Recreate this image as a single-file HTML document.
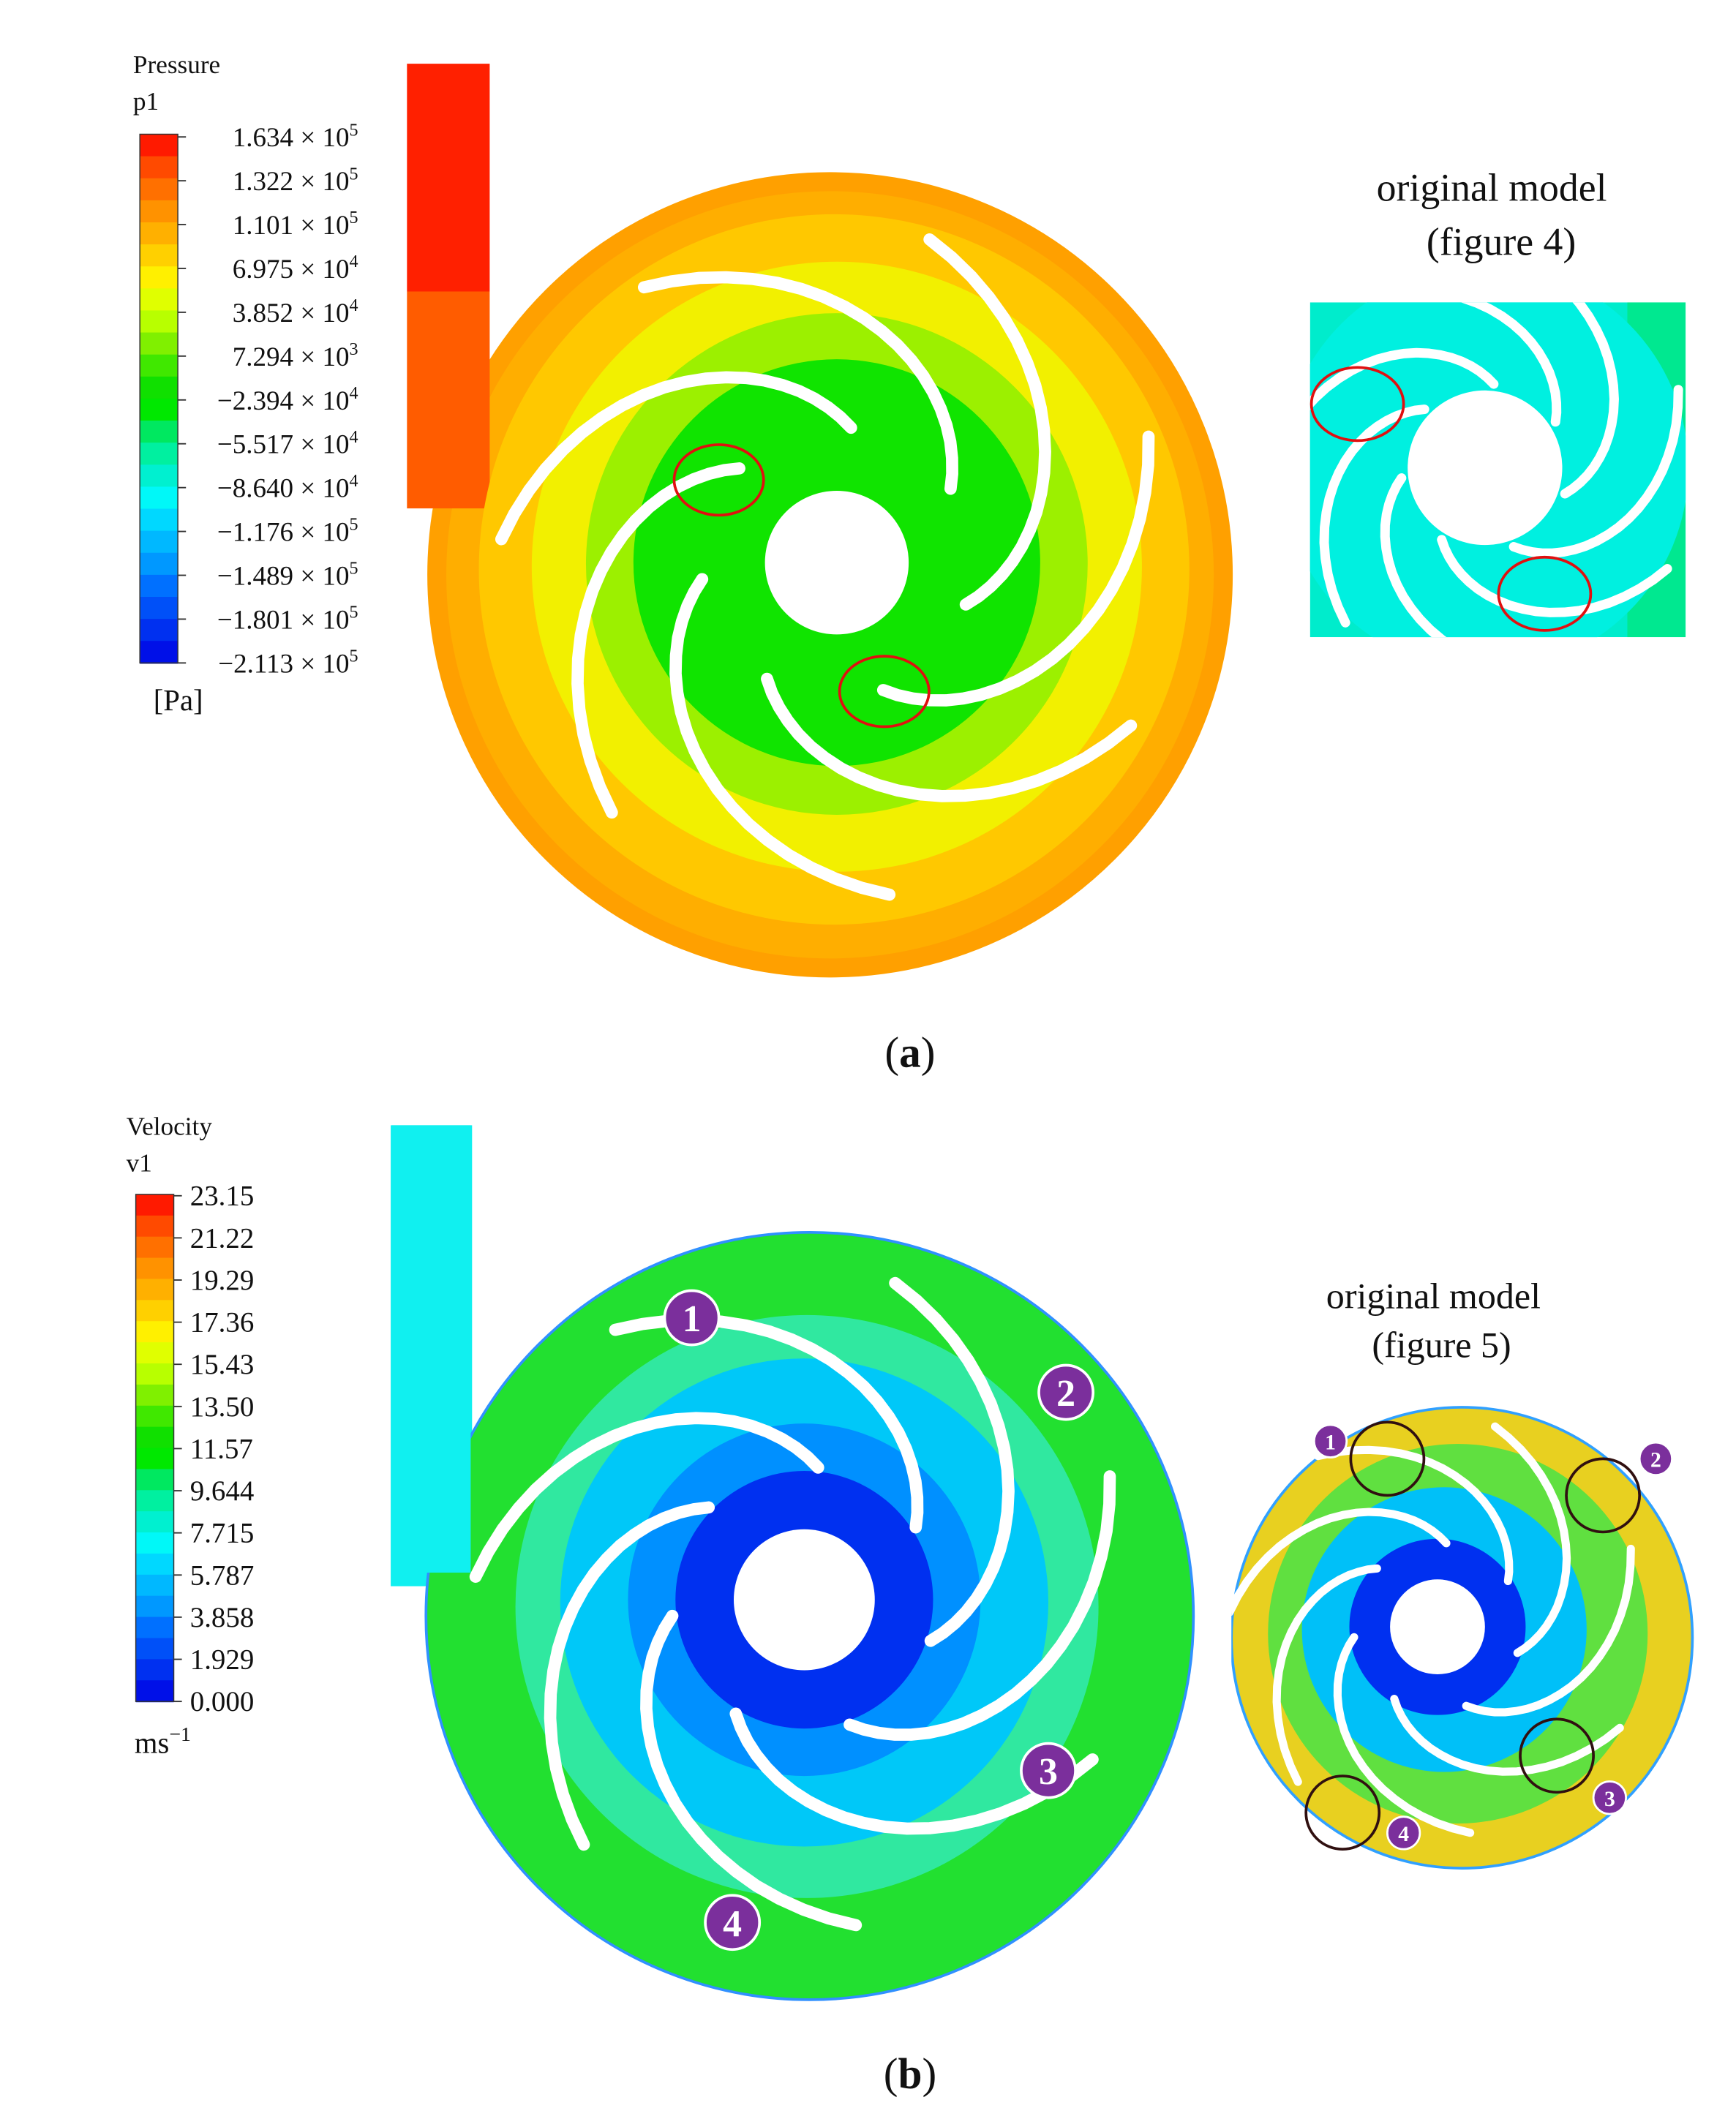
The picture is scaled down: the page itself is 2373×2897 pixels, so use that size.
<!DOCTYPE html>
<html><head><meta charset="utf-8"><style>
html,body{margin:0;padding:0;background:#fff}
svg{display:block}
text{font-family:"Liberation Serif",serif;fill:#111}
</style></head><body>
<svg id="fig" width="2373" height="2897" viewBox="0 0 1280 1563" xmlns="http://www.w3.org/2000/svg">
<defs>
<clipPath id="insA"><rect x="966" y="223" width="277" height="247"/></clipPath>
<clipPath id="insB"><rect x="908" y="1000" width="360" height="400"/></clipPath>
</defs>
<g id="panelA"></g>
<g id="panelB"></g>
<text x="671" y="787" font-size="32" text-anchor="middle">(<tspan font-weight="bold">a</tspan>)</text>
<text x="671" y="1540" font-size="32" text-anchor="middle">(<tspan font-weight="bold">b</tspan>)</text>
</svg>
<script>
// ---- data ----
const pressureTicks = ["1.634","1.322","1.101","6.975","3.852","7.294","\u22122.394","\u22125.517","\u22128.640","\u22121.176","\u22121.489","\u22121.801","\u22122.113"];
const pressureExps = ["5","5","5","4","4","3","4","4","4","5","5","5","5"];
const velocityTicks = ["23.15","21.22","19.29","17.36","15.43","13.50","11.57","9.644","7.715","5.787","3.858","1.929","0.000"];
const bandColors = ["#ff1a00","#ff4a00","#ff7000","#ff9200","#ffb000","#ffd000","#fff000","#e0ff00","#b8ff00","#80f000","#40e800","#10e000","#00e800","#00e860","#00f0a0","#00f0d0","#00f8f8","#00d8ff","#00b8ff","#0098ff","#0070ff","#0050f8","#0030f0","#0010e8"];
const bladeStarts = [70,121,173,224,276,327,18]; // leading-edge angles (deg)

const NS="http://www.w3.org/2000/svg";
function mk(tag,attrs,parent){const e=document.createElementNS(NS,tag);for(const k in attrs)e.setAttribute(k,attrs[k]);parent.appendChild(e);return e;}
function txt(parent,x,y,s,size,anchor){const t=mk('text',{x:x,y:y,'font-size':size,'text-anchor':anchor||'start'},parent);t.textContent=s;return t;}

function colorBar(parent,x,y0,y1,w){
  const n=bandColors.length,h=(y1-y0)/n;
  bandColors.forEach((c,i)=>{
    const r=mk('rect',{x:x,y:y0+i*h,width:w,height:h+0.6,fill:c},parent);
    
    
  });
  mk('rect',{x:x,y:y0,width:w,height:y1-y0,fill:'none',stroke:'#333','stroke-width':0.8},parent);
}
function blades(parent,cx,cy,scale,w){
  bladeStarts.forEach(a0=>{
    let d='';
    for(let i=0;i<=20;i++){const t=i/20;const a=(a0-92*t)*Math.PI/180;const r=(100+148*t)*scale;
      d+=(i?'L':'M')+(cx+r*Math.cos(a)).toFixed(1)+' '+(cy+r*Math.sin(a)).toFixed(1);}
    const p=mk('path',{d:d,fill:'none',stroke:'#fff','stroke-width':w,'stroke-linecap':'round'},parent);
    
    
  });
}

// ---- panel A ----
const A=document.getElementById('panelA');
txt(A,98,54,'Pressure',19);txt(A,98,81,'p1',19);
colorBar(A,103,99,489,28);
pressureTicks.forEach((s,i)=>{
  const y=101+i*(388/12);
  mk('line',{x1:131,y1:y,x2:137,y2:y,stroke:'#333','stroke-width':1},A);
  const t=mk('text',{x:264,y:y+7,'font-size':20,'text-anchor':'end'},A);
  
  
  t.innerHTML=s+' \u00d7 10<tspan dy="-8" font-size="13">'+pressureExps[i]+'</tspan>';
});
txt(A,113,524,'[Pa]',22);
// volute
mk('circle',{cx:612,cy:424,r:290,fill:'#ffae00'},A);
mk('circle',{cx:612,cy:424,r:290,fill:'none',stroke:'#ffa000','stroke-width':14},A);
mk('rect',{x:300,y:215,width:61,height:160,fill:'#ff5c00'},A);
mk('rect',{x:300,y:47,width:61,height:168,fill:'#ff2000'},A);
mk('circle',{cx:615,cy:420,r:262,fill:'#ffc800'},A);
mk('circle',{cx:617,cy:418,r:225,fill:'#f2f000'},A);
mk('circle',{cx:617,cy:416,r:185,fill:'#9cf000'},A);
mk('circle',{cx:617,cy:415,r:150,fill:'#10e400'},A);
blades(A,617,415,1,9);
mk('circle',{cx:617,cy:415,r:53,fill:'#fff'},A);
mk('ellipse',{cx:530,cy:354,rx:33,ry:26,fill:'none',stroke:'#e01010','stroke-width':2},A);
mk('ellipse',{cx:652,cy:510,rx:33,ry:26,fill:'none',stroke:'#e01010','stroke-width':2},A);
// inset A
txt(A,1100,148,'original model',29,'middle');txt(A,1107,188,'(figure 4)',29,'middle');
const ia=mk('g',{'clip-path':'url(#insA)'},A);
mk('rect',{x:966,y:223,width:277,height:247,fill:'#00eccc'},ia);
mk('rect',{x:1200,y:223,width:43,height:247,fill:'#00e890'},ia);
mk('circle',{cx:1095,cy:345,r:150,fill:'#00f0e0'},ia);
blades(ia,1095,345,0.62,7);
mk('circle',{cx:1095,cy:345,r:57,fill:'#fff'},ia);
mk('ellipse',{cx:1001,cy:298,rx:34,ry:27,fill:'none',stroke:'#e01010','stroke-width':2},A);
mk('ellipse',{cx:1139,cy:438,rx:34,ry:27,fill:'none',stroke:'#e01010','stroke-width':2},A);

// ---- panel B ----
const B=document.getElementById('panelB');
txt(B,93,837,'Velocity',19);txt(B,93,864,'v1',19);
colorBar(B,100,881,1255,28);
velocityTicks.forEach((s,i)=>{
  const y=882+i*(373/12);
  mk('line',{x1:128,y1:y,x2:134,y2:y,stroke:'#333','stroke-width':1},B);
  const t=txt(B,140,y+7,s,21);
  
  
});
const u=mk('text',{x:99,y:1293,'font-size':22},B);u.innerHTML='ms<tspan dy="-9" font-size="15">\u22121</tspan>';
mk('rect',{x:288,y:830,width:60,height:340,fill:'#10f0f0'},B);
mk('circle',{cx:597,cy:1192,r:283,fill:'#22e030',stroke:'#3090ff','stroke-width':2},B);
mk('rect',{x:289,y:830,width:58,height:330,fill:'#10f0f0'},B);
mk('circle',{cx:595,cy:1185,r:215,fill:'#30e8a0'},B);
mk('circle',{cx:593,cy:1182,r:180,fill:'#00c8f8'},B);
mk('circle',{cx:593,cy:1180,r:130,fill:'#0090ff'},B);
mk('circle',{cx:593,cy:1180,r:95,fill:'#0030f0'},B);
blades(B,593,1180,0.98,9);
mk('circle',{cx:593,cy:1180,r:52,fill:'#fff'},B);
[[510,972,'1'],[786,1027,'2'],[773,1306,'3'],[540,1418,'4']].forEach(m=>{
  const c=mk('circle',{cx:m[0],cy:m[1],r:20,fill:'#7b2f9c',stroke:'#fff','stroke-width':2},B);
  
  
  const t=mk('text',{x:m[0],y:m[1]+10,'font-size':28,'font-weight':'bold','text-anchor':'middle',fill:'#fff'},B);
  t.style.fill='#fff';t.textContent=m[2];
});
txt(B,1057,965,'original model',27,'middle');txt(B,1063,1001,'(figure 5)',27,'middle');
const ib=mk('g',{'clip-path':'url(#insB)'},B);
mk('circle',{cx:1078,cy:1208,r:170,fill:'#e8d020',stroke:'#30a0ff','stroke-width':2},ib);
mk('circle',{cx:1075,cy:1205,r:140,fill:'#60e040'},ib);
mk('circle',{cx:1065,cy:1202,r:105,fill:'#00c0f8'},ib);
mk('circle',{cx:1060,cy:1200,r:65,fill:'#0030f0'},ib);
blades(ib,1060,1200,0.62,6);
mk('circle',{cx:1060,cy:1200,r:35,fill:'#fff'},ib);
[[1023,1076],[1182,1103],[1148,1295],[990,1337]].forEach(p=>mk('circle',{cx:p[0],cy:p[1],r:27,fill:'none',stroke:'#301010','stroke-width':2},B));
[[981,1063,'1'],[1221,1076,'2'],[1187,1326,'3'],[1035,1352,'4']].forEach(m=>{
  mk('circle',{cx:m[0],cy:m[1],r:12,fill:'#7b2f9c',stroke:'#fff','stroke-width':1.5},B);
  const t=mk('text',{x:m[0],y:m[1]+6,'font-size':16,'font-weight':'bold','text-anchor':'middle'},B);t.style.fill='#fff';t.textContent=m[2];
});
</script>
</body></html>
